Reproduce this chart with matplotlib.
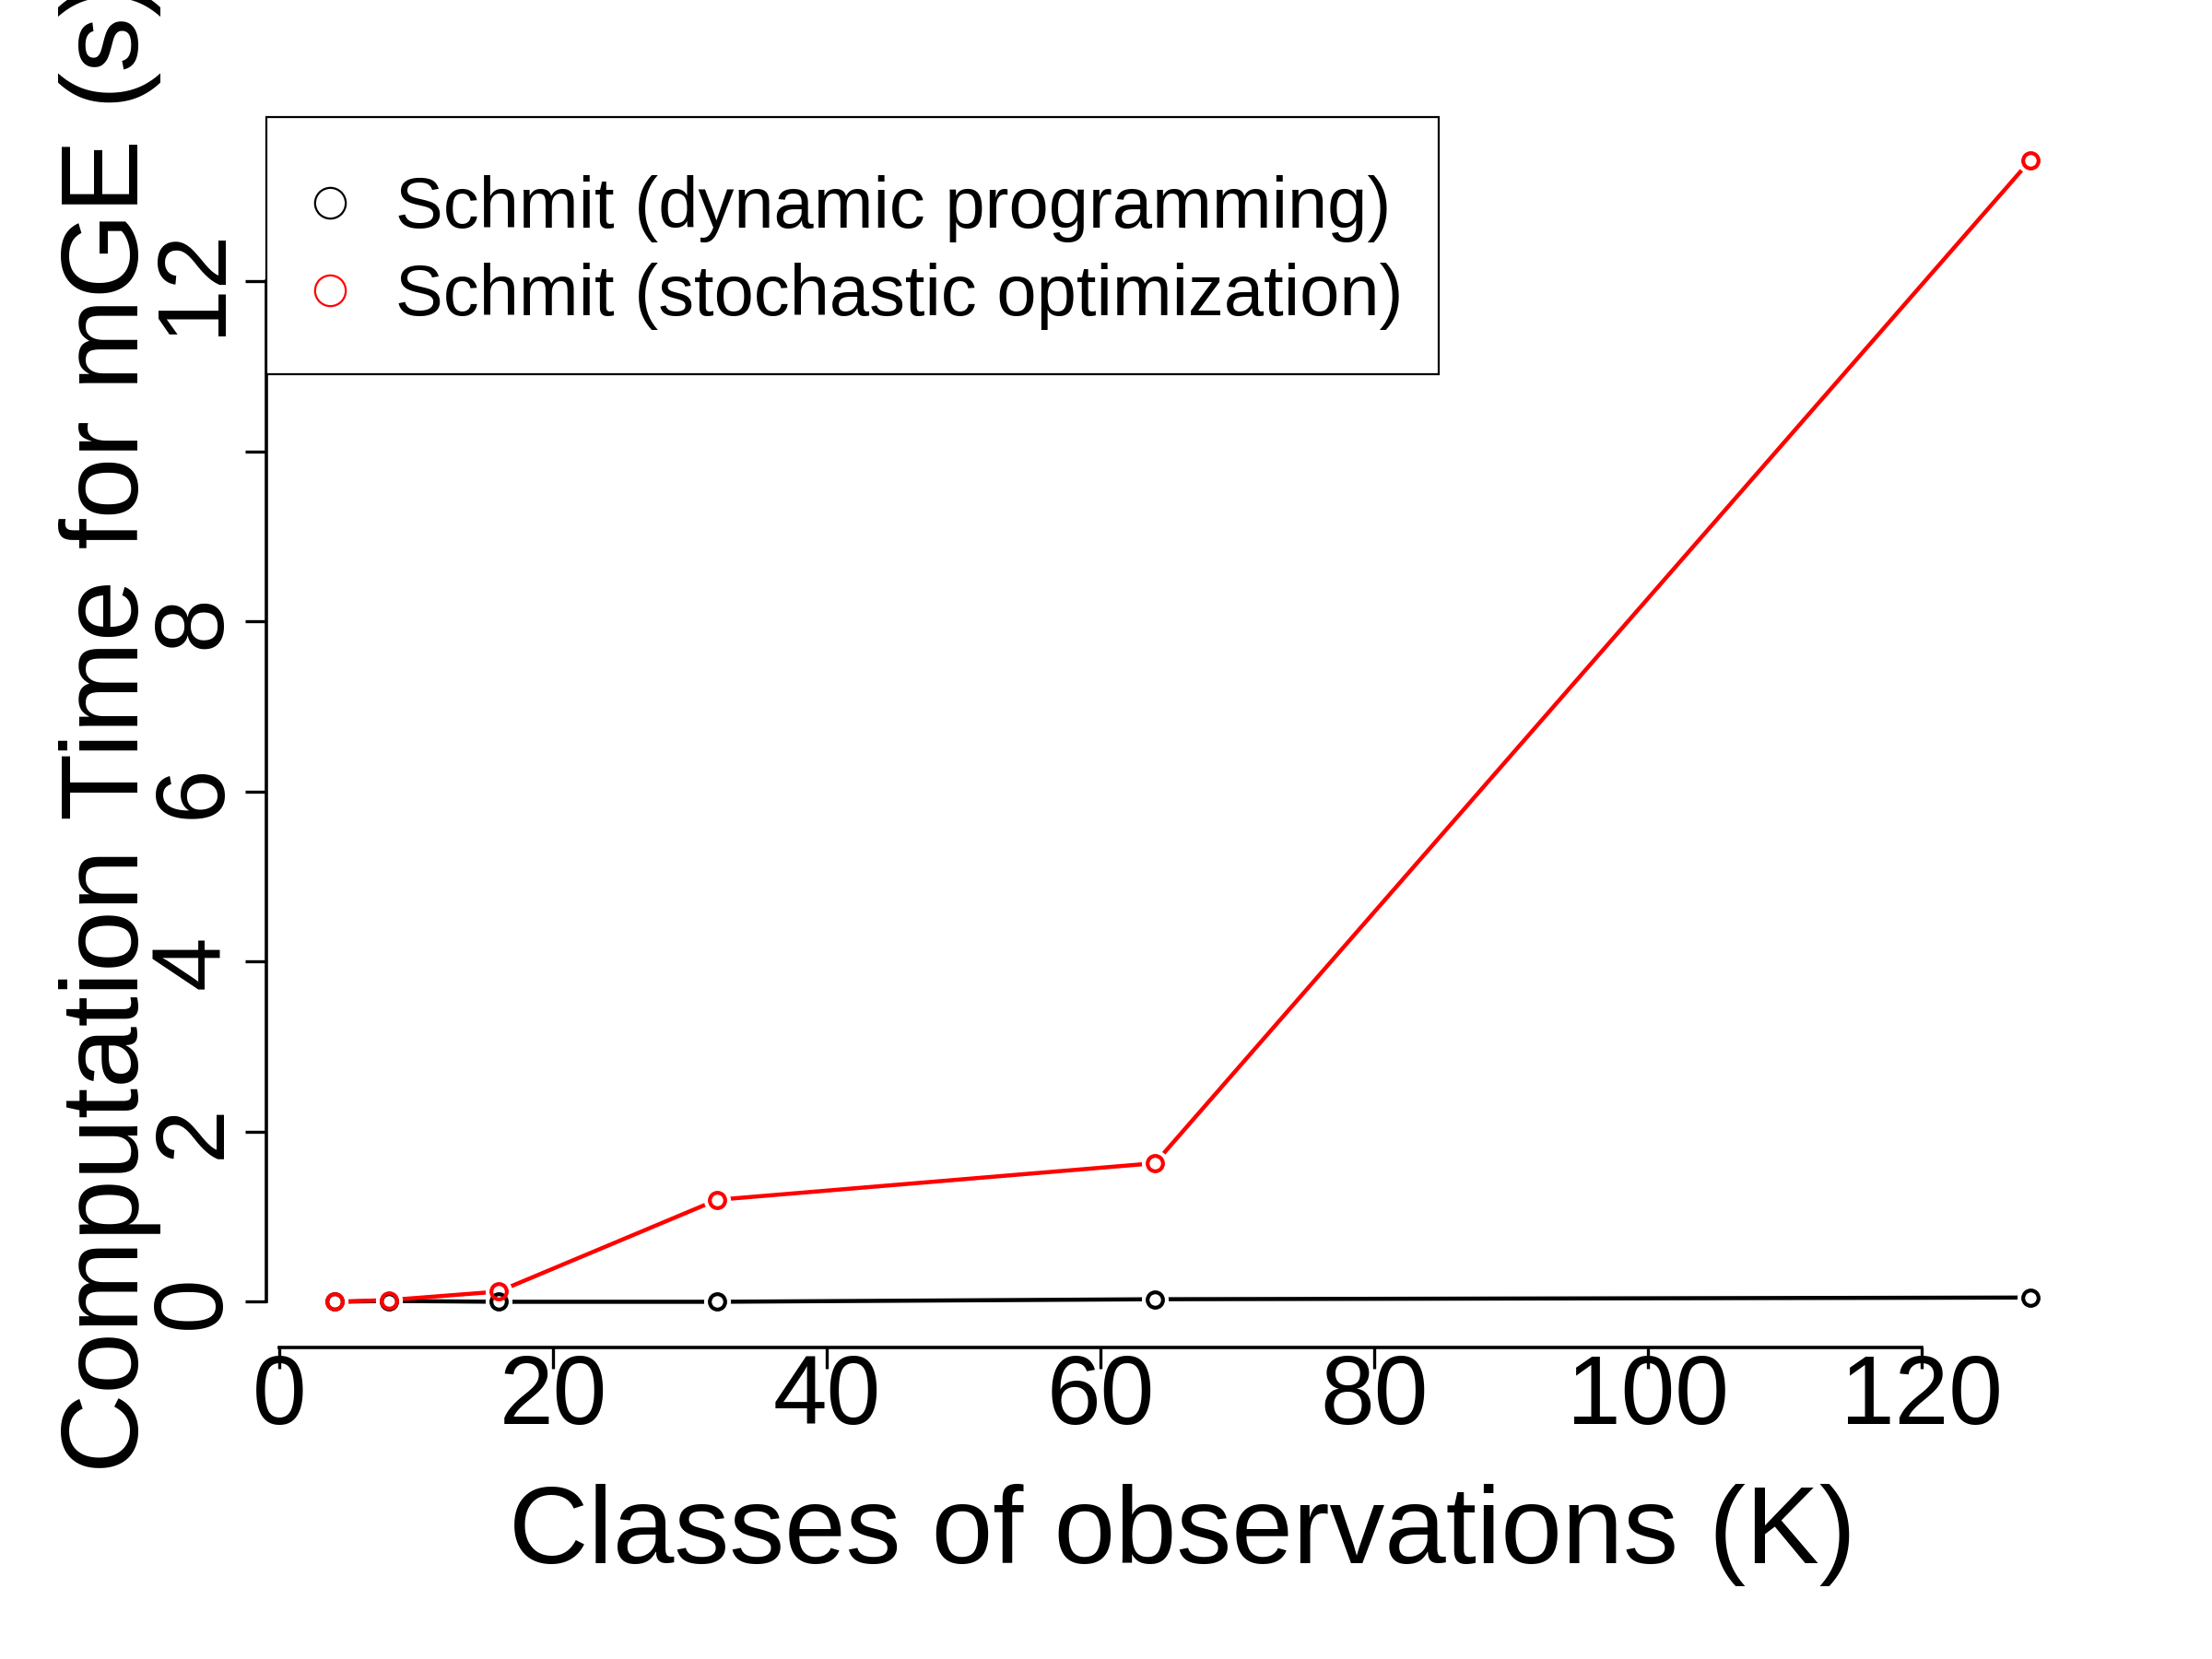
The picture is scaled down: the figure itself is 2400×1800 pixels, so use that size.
import matplotlib
matplotlib.use("Agg")
import matplotlib.pyplot as plt
from matplotlib.lines import Line2D
from matplotlib.patches import Rectangle

plt.rcParams["font.family"] = ["Liberation Sans", "DejaVu Sans"]

# ── data ─────────────────────────────────────────────────────────────────────
k_classes = [4, 8, 16, 32, 64, 128]
time_dp = [0.0, 0.01, 0.0, 0.0, 0.03, 0.05]        # dynamic programming
time_so = [0.0, 0.02, 0.12, 1.2, 1.63, 13.43]      # stochastic optimization
labels = ["Schmit (dynamic programming)", "Schmit (stochastic optimization)"]
colors = ["black", "#FF0000"]

x_ticks = [0, 20, 40, 60, 80, 100, 120]
y_ticks = [0, 2, 4, 6, 8, 10, 12]
y_tick_labels = ["0", "2", "4", "6", "8", "", "12"]

# ── figure ───────────────────────────────────────────────────────────────────
fig = plt.figure(figsize=(12, 9), dpi=200, facecolor="white")
ax = fig.add_axes([0.1204, 0.1878, 0.8283, 0.7433])

for ys, col in zip([time_dp, time_so], colors):
    ax.plot(k_classes, ys, color=col, lw=1.6, zorder=2, solid_capstyle="butt")
    # white mask gives the R type="b" gap round each point
    ax.plot(k_classes, ys, ls="none", marker="o", ms=10.5, mfc="white",
            mec="none", zorder=3)
    ax.plot(k_classes, ys, ls="none", marker="o", ms=6, mfc="none",
            mec=col, mew=1.5, zorder=4)

ax.set_xlim(-0.96, 132.96)
ax.set_ylim(-0.537, 13.967)

for s in ["top", "right"]:
    ax.spines[s].set_visible(False)
ax.spines["left"].set_bounds(0, 12)
ax.spines["bottom"].set_bounds(0, 120)
for s in ["left", "bottom"]:
    ax.spines[s].set_linewidth(1.3)

ax.set_xticks(x_ticks)
ax.set_yticks(y_ticks)
ax.set_yticklabels(y_tick_labels)
ax.tick_params(axis="both", direction="out", length=8.3, width=1.2,
               labelsize=38, color="black")
ax.tick_params(axis="x", pad=-6)
ax.tick_params(axis="y", labelrotation=90, pad=2)
for lab in ax.get_yticklabels():
    lab.set_va("center")

fig.text(1283 / 2400, 1 - 1696 / 1800, "Classes of observations (K)",
         fontsize=43, ha="center", va="baseline")
fig.text(150 / 2400, 1 - 788 / 1800, "Computation Time for mGE (s)",
         fontsize=43, ha="center", va="baseline", rotation=90,
         rotation_mode="anchor")

# legend box (R style, drawn separately so the padding can match)
box = Rectangle((289 / 2400, 1 - 406 / 1800), (1561 - 289) / 2400,
                (406 - 127) / 1800, transform=fig.transFigure,
                facecolor="white", edgecolor="black", lw=0.8,
                clip_on=False, zorder=5)
ax.add_patch(box)

handles = [Line2D([], [], ls="none", marker="o", ms=12, mfc="none",
                  mec=c, mew=0.8) for c in colors]
leg = ax.legend(handles, labels, loc="center left",
                bbox_to_anchor=(330 / 2400, 1 - 274 / 1800),
                bbox_transform=fig.transFigure,
                fontsize=28, frameon=False, borderaxespad=0,
                borderpad=0, handlelength=0.72, handletextpad=0.55,
                labelspacing=0.28)
leg.set_zorder(6)

fig.savefig("out.png", dpi=200, facecolor="white")
